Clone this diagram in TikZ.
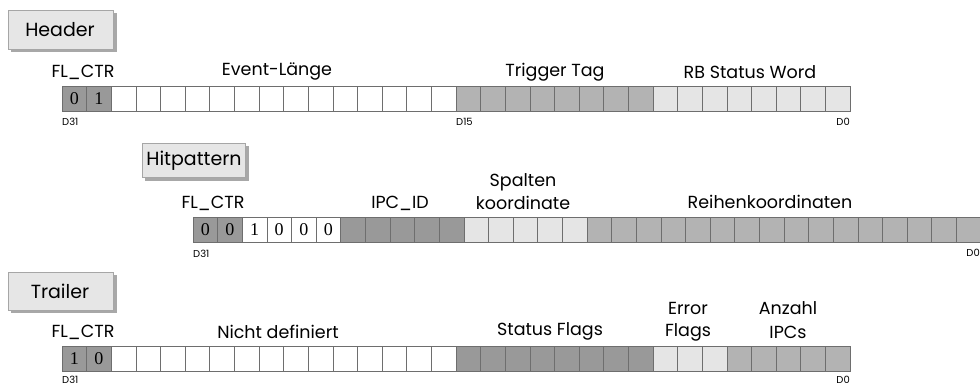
\documentclass[tikz,border=0pt]{standalone}
\usepackage{fontspec}
\newfontfamily\digitfont{Liberation Serif}
\newfontfamily\advfont{Poppins}
\definecolor{cdark}{HTML}{999999}
\definecolor{cmid}{HTML}{B3B3B3}
\definecolor{clight}{HTML}{E5E5E5}
\definecolor{cborder}{HTML}{6E6E6E}
\definecolor{tabfill}{HTML}{E6E6E6}
\definecolor{tabshadow}{HTML}{A8A8A8}
\tikzset{
  cellbox/.style={draw=cborder, line width=0.6pt, minimum width=24.625pt, minimum height=25pt,
    inner sep=0pt, outer sep=0pt, anchor=north west, font=\digitfont\fontsize{18}{18}\selectfont},
  tabbox/.style={fill=tabfill, draw=gray!70, line width=0.4pt, inner sep=0pt, outer sep=0pt},
  tabshadowbox/.style={fill=tabshadow, draw=none},
  tabtext/.style={font=\advfont\fontsize{19}{21}\selectfont, inner sep=0pt},
  lbl/.style={font=\advfont\fontsize{17.5}{19}\selectfont, inner sep=0pt},
  blbl/.style={font=\advfont\fontsize{10}{12}\selectfont, inner sep=0pt}
}
\begin{document}
\begin{tikzpicture}[x=1pt,y=-1pt]
\useasboundingbox (0,0) rectangle (980,387);
\fill[white] (0,0) rectangle (980,387);
% ---------- Header ----------
\fill[tabshadowbox] (11,13) rectangle (117,52);
\draw[tabbox] (8,10) rectangle (113,49);
\node[tabtext] (thdr) at (60,30) {Header};
\foreach \i/\c/\t in {0/cdark/0,1/cdark/1}
  \node[cellbox, fill=\c] (h\i) at ({62+\i*24.625},86) {\t};
\foreach \i in {2,...,15}
  \node[cellbox, fill=white] (h\i) at ({62+\i*24.625},86) {};
\foreach \i in {16,...,23}
  \node[cellbox, fill=cmid] (h\i) at ({62+\i*24.625},86) {};
\foreach \i in {24,...,31}
  \node[cellbox, fill=clight] (h\i) at ({62+\i*24.625},86) {};
\node[lbl] (hfl) at (83,72) {FL\_CTR};
\node[lbl] (hev) at (277,72) {Event-Länge};
\node[lbl] (htt) at (555,72) {Trigger Tag};
\node[lbl] (hrb) at (750,72) {RB Status Word};
\node[blbl, anchor=west] (hd31) at (62,122) {D31};
\node[blbl, anchor=west] (hd15) at (456,122) {D15};
\node[blbl, anchor=east] (hd0) at (850,122) {D0};
% ---------- Hitpattern ----------
\fill[tabshadowbox] (145,146) rectangle (249,181);
\draw[tabbox] (142,143) rectangle (245,177);
\node[tabtext] (thit) at (194,161) {Hitpattern};
\foreach \i/\t in {0/0,1/0}
  \node[cellbox, fill=cdark] (p\i) at ({193+\i*24.625},217) {\t};
\foreach \i/\t in {2/1,3/0,4/0,5/0}
  \node[cellbox, fill=white] (p\i) at ({193+\i*24.625},217) {\t};
\foreach \i in {6,...,10}
  \node[cellbox, fill=cdark] (p\i) at ({193+\i*24.625},217) {};
\foreach \i in {11,...,15}
  \node[cellbox, fill=clight] (p\i) at ({193+\i*24.625},217) {};
\foreach \i in {16,...,31}
  \node[cellbox, fill=cmid] (p\i) at ({193+\i*24.625},217) {};
\node[lbl] (pfl) at (213,203) {FL\_CTR};
\node[lbl] (pipc) at (400,203) {IPC\_ID};
\node[lbl] (psp1) at (523,182) {Spalten};
\node[lbl] (psp2) at (523,203) {koordinate};
\node[lbl] (prk) at (770,202) {Reihenkoordinaten};
\node[blbl, anchor=west] (pd31) at (193,254) {D31};
\node[blbl, anchor=east] (pd0) at (980,253) {D0};
% ---------- Trailer ----------
\fill[tabshadowbox] (11,275) rectangle (117,313);
\draw[tabbox] (8,272) rectangle (113,310);
\node[tabtext] (ttrl) at (60,291) {Trailer};
\foreach \i/\t in {0/1,1/0}
  \node[cellbox, fill=cdark] (t\i) at ({62+\i*24.625},346) {\t};
\foreach \i in {2,...,15}
  \node[cellbox, fill=white] (t\i) at ({62+\i*24.625},346) {};
\foreach \i in {16,...,23}
  \node[cellbox, fill=cdark] (t\i) at ({62+\i*24.625},346) {};
\foreach \i in {24,...,26}
  \node[cellbox, fill=clight] (t\i) at ({62+\i*24.625},346) {};
\foreach \i in {27,...,31}
  \node[cellbox, fill=cmid] (t\i) at ({62+\i*24.625},346) {};
\node[lbl] (tfl) at (83,332) {FL\_CTR};
\node[lbl] (tnd) at (278,332) {Nicht definiert};
\node[lbl] (tsf) at (550,331) {Status Flags};
\node[lbl] (tef1) at (688,308) {Error};
\node[lbl] (tef2) at (688,332) {Flags};
\node[lbl] (tan1) at (788,308) {Anzahl};
\node[lbl] (tan2) at (788,332) {IPCs};
\node[blbl, anchor=west] (td31) at (62,380) {D31};
\node[blbl, anchor=east] (td0) at (850,380) {D0};
\end{tikzpicture}
\end{document}
